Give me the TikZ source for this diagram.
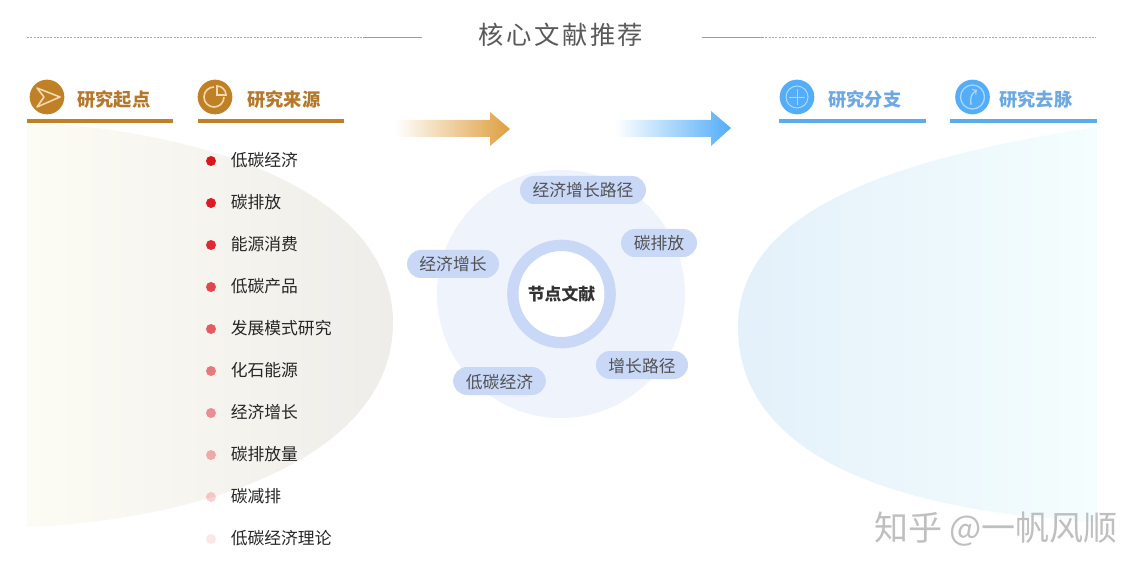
\documentclass[tikz,border=0pt]{standalone}
\usepackage{fontspec}
\usepackage{tikz}
\setmainfont{Noto Sans CJK SC}
\newfontfamily\titlefont[LetterSpace=10]{Noto Sans CJK SC}
\definecolor{goldbar}{HTML}{C08025}
\definecolor{goldtext}{HTML}{B5782A}
\definecolor{goldline}{HTML}{F3D9AE}
\definecolor{goldarrow}{HTML}{DE9F3F}
\definecolor{bluebar}{HTML}{5AACEE}
\definecolor{bluetext}{HTML}{6CA9E4}
\definecolor{blueline}{HTML}{A9D8FB}
\definecolor{bluearrow}{HTML}{53ADF8}
\definecolor{ruleblue}{HTML}{5FB0DC}
\definecolor{pillblue}{HTML}{C9D8F7}
\definecolor{discblue}{HTML}{EFF3FC}
\definecolor{listred}{HTML}{DD1520}
\definecolor{lensA}{HTML}{FCFBF4}
\definecolor{lensM}{HTML}{F6F5ED}
\definecolor{lensB}{HTML}{EEEDE9}
\definecolor{lensC}{HTML}{E4F0FA}
\definecolor{lensN}{HTML}{EEF9FD}
\definecolor{lensD}{HTML}{F4FEFE}
\tikzset{
  listtext/.style={anchor=west,inner sep=0pt,text=black!85,font=\fontsize{12.6}{15}\selectfont},
  listdot/.style={circle,inner sep=0pt,minimum size=7.5pt,fill=listred},
  pill/.style={rounded corners=10.5pt,inner sep=0pt,minimum height=21pt,text height=12pt,text depth=1.5pt,fill=pillblue,text=black!68,font=\fontsize{12.6}{15}\selectfont},
  headtext/.style={anchor=west,inner sep=0pt,font=\fontsize{13.7}{16}\bfseries\selectfont},
  headdisc/.style={circle,inner sep=0pt,minimum size=26pt},
}
\begin{document}
\begin{tikzpicture}[x=0.75pt,y=0.75pt,yscale=-1,xscale=1]
\useasboundingbox (0,0) rectangle (1147,574);

%Shape: left lens
\shade[left color=lensA,middle color=lensM,right color=lensB] (27,122) .. controls (200,130) and (393,190) .. (393,323) .. controls (393,458) and (200,520) .. (27,527) -- cycle ;
%Shape: right lens
\shade[left color=lensC,middle color=lensN,right color=lensD] (1097,127) .. controls (880,160) and (738,215) .. (738,327) .. controls (738,445) and (870,510) .. (1097,522) -- cycle ;

%Title
\coordinate (ruleleft) at (27,37.5);
\coordinate (ruleright) at (1096,37.5);
\coordinate (blueleftA) at (363,37.5);
\coordinate (blueleftB) at (422,37.5);
\coordinate (bluerightA) at (702,37.5);
\coordinate (bluerightB) at (762,37.5);
\draw [black!33,line width=0.5pt,dash pattern=on 1.5pt off 1pt] (ruleleft) -- (blueleftA) ;
\draw [black!33,line width=0.5pt,dash pattern=on 1.5pt off 1pt] (bluerightB) -- (ruleright) ;
\draw [ruleblue,line width=0.9pt] (blueleftA) -- (blueleftB) ;
\draw [ruleblue,line width=0.9pt] (bluerightA) -- (bluerightB) ;
\node (title) at (561,35) [inner sep=0pt,text=black!65,font=\fontsize{19}{23}\titlefont] {核心文献推荐};

%Heads, left side
\node (startdisc) at (47,97) [headdisc,fill=goldbar] {};
\node (starttext) at (77,99.5) [headtext,text=goldtext] {研究起点};
\draw [goldbar,line width=3pt] (27,121) -- (173,121) ;
\draw [goldline,line width=1.2pt,line join=round] (37,88) -- (60,97) -- (37,107) -- (44,97) -- cycle ;
\node (sourcedisc) at (215,97) [headdisc,fill=goldbar] {};
\node (sourcetext) at (247,99.5) [headtext,text=goldtext] {研究来源};
\draw [goldbar,line width=3pt] (198,121) -- (344,121) ;
\draw [goldline,line width=1.2pt] (214,87) arc [start angle=270,end angle=0,radius=10] ;
\draw [goldline,line width=1.2pt] (217,95) -- (217,86) arc [start angle=270,end angle=360,radius=9] -- cycle ;

%Heads, right side
\node (branchdisc) at (797,97) [headdisc,fill=bluearrow] {};
\node (branchtext) at (828,99.5) [headtext,text=bluetext] {研究分支};
\draw [bluebar,line width=3pt] (779,121) -- (926,121) ;
\draw [blueline,line width=0.8pt] (797,97) circle [radius=11] ;
\draw [blueline,line width=0.5pt] (789,97) -- (805,97) (797,89) -- (797,105) ;
\node (trackdisc) at (972.5,97) [headdisc,fill=bluearrow] {};
\node (tracktext) at (999,99.5) [headtext,text=bluetext] {研究去脉};
\draw [bluebar,line width=3pt] (950,121) -- (1097,121) ;
\draw [blueline,line width=1pt] (972.5,97) circle [radius=12] ;
\draw [blueline,line width=1pt,->] (971,105) .. controls (970,98) and (971,94) .. (977,90) ;

%Shape: arrows
\shade [left color=white,middle color=goldarrow!75!white,right color=goldarrow] (395,120) -- (490,120) -- (490,112) -- (510,129) -- (490,146) -- (490,137) -- (395,137) -- cycle ;
\shade [left color=white,middle color=bluearrow!90!white,right color=bluearrow] (615,120) -- (711,120) -- (711,111) -- (731,128) -- (711,146) -- (711,137) -- (615,137) -- cycle ;

%List
\node (dotA) at (211,161) [listdot] {};
\node (itemA) at (230.5,160) [listtext] {低碳经济};
\node (dotB) at (211,203) [listdot,opacity=0.97] {};
\node (itemB) at (230.5,202) [listtext] {碳排放};
\node (dotC) at (211,245) [listdot,opacity=0.9] {};
\node (itemC) at (230.5,244) [listtext] {能源消费};
\node (dotD) at (211,287) [listdot,opacity=0.78] {};
\node (itemD) at (230.5,286) [listtext] {低碳产品};
\node (dotE) at (211,329) [listdot,opacity=0.68] {};
\node (itemE) at (230.5,328) [listtext] {发展模式研究};
\node (dotF) at (211,371) [listdot,opacity=0.55] {};
\node (itemF) at (230.5,370) [listtext] {化石能源};
\node (dotG) at (211,413) [listdot,opacity=0.45] {};
\node (itemG) at (230.5,412) [listtext] {经济增长};
\node (dotH) at (211,455) [listdot,opacity=0.33] {};
\node (itemH) at (230.5,454) [listtext] {碳排放量};
\node (dotI) at (211,497) [listdot,opacity=0.2] {};
\node (itemI) at (230.5,496) [listtext] {碳减排};
\node (dotJ) at (211,539) [listdot,opacity=0.1] {};
\node (itemJ) at (230.5,538) [listtext] {低碳经济理论};

%Shape: disc and ring
\fill [discblue] (561,294) circle [radius=124] ;
\node (core) at (561.5,294) [circle,draw=pillblue,line width=8.5pt,fill=white,inner sep=0pt,minimum size=73pt,text=black!80,font=\fontsize{12.6}{15}\bfseries\selectfont] {节点文献};

%Pills
\node (pillA) at (583,190) [pill,minimum width=94.5pt] {经济增长路径};
\node (pillB) at (659,243) [pill,minimum width=57pt] {碳排放};
\node (pillC) at (453,264) [pill,minimum width=69pt] {经济增长};
\node (pillD) at (642,365) [pill,minimum width=69pt] {增长路径};
\node (pillE) at (499.5,381) [pill,minimum width=69.5pt] {低碳经济};

%Watermark
\node (mark) at (996,529) [inner sep=0pt,text=black!25,font=\fontsize{25.5}{30}\selectfont] {知乎 @一帆风顺};

\end{tikzpicture}
\end{document}
